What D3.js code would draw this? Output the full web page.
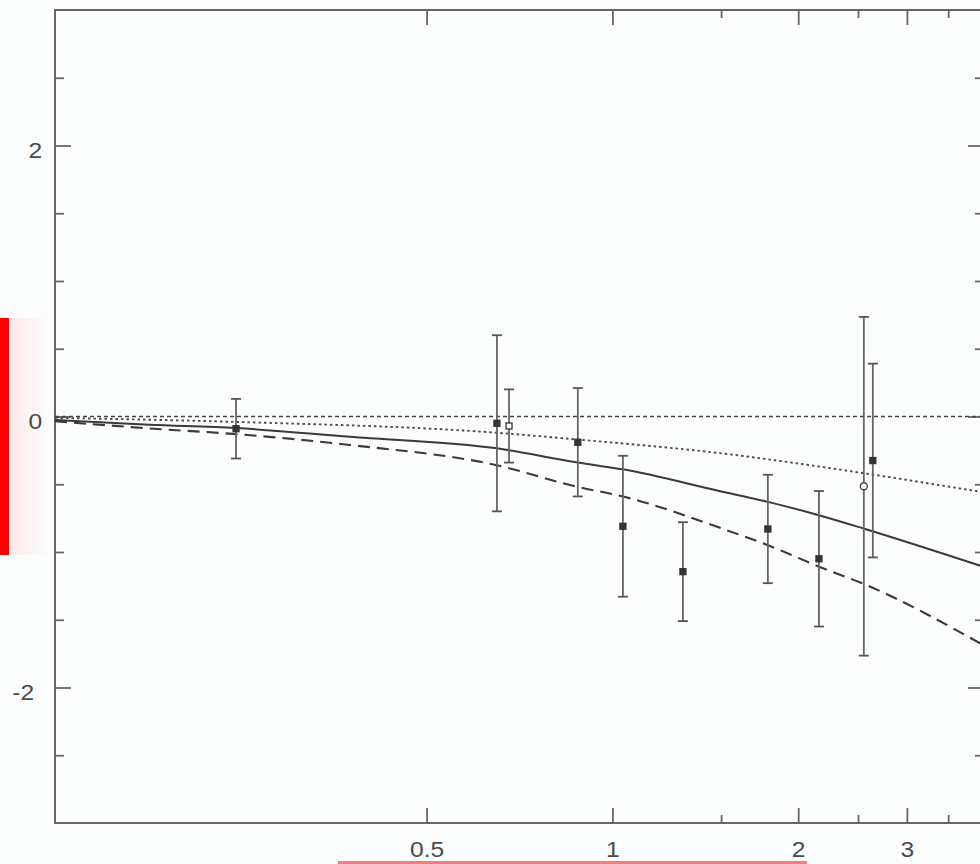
<!DOCTYPE html>
<html>
<head>
<meta charset="utf-8">
<script src="https://cdn.jsdelivr.net/npm/d3@7"></script>
<style>
  html, body { margin: 0; padding: 0; background: #fcfdfd; }
  svg { display: block; }
</style>
</head>
<body>
<script>
// measured points with symmetric error bars
var pointX   = [0.2456, 0.650, 0.680, 0.879, 1.040, 1.301, 1.786, 2.161, 2.555, 2.642];
var pointY   = [-0.09, -0.05, -0.07, -0.19, -0.81, -1.145, -0.83, -1.05, -0.515, -0.325];
var pointErr = [0.22, 0.65, 0.27, 0.40, 0.52, 0.365, 0.40, 0.50, 1.25, 0.715];
var pointSym = ['fill', 'fill', 'open', 'fill', 'fill', 'fill', 'fill', 'fill', 'circle', 'fill'];

// model curves
var solidX  = [0.125, 0.1777, 0.2456, 0.3755, 0.650, 0.879, 1.040, 1.490, 1.786, 2.167, 2.567, 4.0];
var solidY  = [-0.025, -0.06, -0.085, -0.15, -0.235, -0.34, -0.39, -0.55, -0.63, -0.73, -0.83, -1.11];
var dashedX = [0.125, 0.1777, 0.2456, 0.3755, 0.650, 0.879, 1.040, 1.490, 1.786, 2.167, 2.567, 4.0];
var dashedY = [-0.035, -0.088, -0.13, -0.21, -0.36, -0.52, -0.59, -0.82, -0.95, -1.11, -1.24, -1.69];
var dottedX = [0.125, 0.2456, 0.650, 0.879, 1.490, 2.567, 4.0];
var dottedY = [-0.01, -0.04, -0.12, -0.17, -0.27, -0.42, -0.56];
var zeroX   = [0.125, 4.0];
var zeroY   = [0, 0];

// axis ticks
var xMajor = [0.5, 1, 2, 3];
var xMinor = [1.5, 2.5, 3.5];
var yMajor = [-2, 0, 2];
var yMinor = [-2.5, -1.5, -1, -0.5, 0.5, 1, 1.5, 2.5];

var width = 980;
var height = 864;
var pLeft = 55, pTop = 10, pRight = 984, pBottom = 823;

var x = d3.scaleLog().domain([0.125, 4]).range([pLeft, pRight]);
var y = d3.scaleLinear().domain([-3, 3]).range([pBottom, pTop]);

var svg = d3.select('body').append('svg')
    .attr('width', width)
    .attr('height', height)
    .style('background', '#fcfdfd');

// red marker at the left edge, with its soft glow
var defs = svg.append('defs');
var grad = defs.append('linearGradient').attr('id', 'glow');
grad.append('stop').attr('offset', '0%').attr('stop-color', '#ff0000').attr('stop-opacity', 0.08);
grad.append('stop').attr('offset', '100%').attr('stop-color', '#ff0000').attr('stop-opacity', 0);
svg.append('rect').attr('x', 9).attr('y', 318).attr('width', 40).attr('height', 237).attr('fill', 'url(#glow)');
svg.append('rect').attr('x', 0).attr('y', 318).attr('width', 9).attr('height', 237).attr('fill', '#ff0000');

// red underline at the bottom
svg.append('rect').attr('x', 338).attr('y', 861).attr('width', 469).attr('height', 3).attr('fill', '#ef7f7f');

var fmt = function(d) { return String(d); };
var textScale = 'scale(1.12,1)';

function styleAxis(g) {
    g.select('.domain').remove();
    g.selectAll('.tick line').attr('stroke', '#666').attr('stroke-width', 1.8);
    g.selectAll('.tick text')
        .attr('fill', '#4a4a4a')
        .style('font-family', '"Liberation Sans", Arial, sans-serif')
        .style('font-size', '22px');
}

// bottom axis
svg.append('g').attr('transform', 'translate(0,' + pBottom + ')')
    .call(d3.axisBottom(x).tickValues(xMinor).tickFormat('').tickSize(-8))
    .call(styleAxis);
svg.append('g').attr('transform', 'translate(0,' + pBottom + ')')
    .call(d3.axisBottom(x).tickValues(xMajor).tickFormat(fmt).tickSize(-15).tickPadding(18.5))
    .call(styleAxis)
    .selectAll('.tick text').attr('transform', textScale);

// top axis
svg.append('g').attr('transform', 'translate(0,' + pTop + ')')
    .call(d3.axisTop(x).tickValues(xMinor).tickFormat('').tickSize(-8))
    .call(styleAxis);
svg.append('g').attr('transform', 'translate(0,' + pTop + ')')
    .call(d3.axisTop(x).tickValues(xMajor).tickFormat('').tickSize(-15))
    .call(styleAxis);

// left axis
svg.append('g').attr('transform', 'translate(' + pLeft + ',0)')
    .call(d3.axisLeft(y).tickValues(yMinor).tickFormat('').tickSize(-9))
    .call(styleAxis);
svg.append('g').attr('transform', 'translate(' + pLeft + ',0)')
    .call(d3.axisLeft(y).tickValues(yMajor).tickFormat(fmt).tickSize(-16).tickPadding(11.5))
    .call(styleAxis)
    .selectAll('.tick text')
        .attr('dy', '0.55em')
        .attr('dx', function(d) { return d < 0 ? -7 : 0; })
        .attr('transform', textScale);

// right axis (sits just past the window edge)
svg.append('g').attr('transform', 'translate(' + pRight + ',0)')
    .call(d3.axisRight(y).tickValues(yMinor).tickFormat('').tickSize(-9))
    .call(styleAxis);
svg.append('g').attr('transform', 'translate(' + pRight + ',0)')
    .call(d3.axisRight(y).tickValues(yMajor).tickFormat('').tickSize(-16))
    .call(styleAxis);

// frame
svg.append('rect')
    .attr('x', pLeft).attr('y', pTop)
    .attr('width', pRight - pLeft).attr('height', pBottom - pTop)
    .attr('fill', 'none').attr('stroke', '#666').attr('stroke-width', 2);

var plot = svg.append('g');

function curve(xs, ys) {
    return d3.line()
        .x(function(d, i) { return x(xs[i]); })
        .y(function(d, i) { return y(ys[i]); })
        .curve(d3.curveMonotoneX)(xs);
}

plot.append('path').attr('d', curve(zeroX, zeroY))
    .attr('fill', 'none').attr('stroke', '#444').attr('stroke-width', 1.4)
    .attr('stroke-dasharray', '4,3');
plot.append('path').attr('d', curve(dottedX, dottedY))
    .attr('fill', 'none').attr('stroke', '#4a4a4a').attr('stroke-width', 1.9)
    .attr('stroke-dasharray', '2.5,3');
plot.append('path').attr('d', curve(solidX, solidY))
    .attr('fill', 'none').attr('stroke', '#3a3a3a').attr('stroke-width', 2);
plot.append('path').attr('d', curve(dashedX, dashedY))
    .attr('fill', 'none').attr('stroke', '#3a3a3a').attr('stroke-width', 2.1)
    .attr('stroke-dasharray', '12,7');

// error bars
var idx = d3.range(pointX.length);
var bars = plot.selectAll('g.bar').data(idx).enter().append('g').attr('class', 'bar');
bars.append('line')
    .attr('x1', function(i) { return x(pointX[i]); })
    .attr('x2', function(i) { return x(pointX[i]); })
    .attr('y1', function(i) { return y(pointY[i] + pointErr[i]); })
    .attr('y2', function(i) { return y(pointY[i] - pointErr[i]); })
    .attr('stroke', '#666').attr('stroke-width', 1.8);
[1, -1].forEach(function(s) {
    bars.append('line')
        .attr('x1', function(i) { return x(pointX[i]) - 5; })
        .attr('x2', function(i) { return x(pointX[i]) + 5; })
        .attr('y1', function(i) { return y(pointY[i] + s * pointErr[i]); })
        .attr('y2', function(i) { return y(pointY[i] + s * pointErr[i]); })
        .attr('stroke', '#555').attr('stroke-width', 1.8);
});

// markers
bars.filter(function(i) { return pointSym[i] !== 'circle'; })
    .append('rect')
    .attr('x', function(i) { return x(pointX[i]) - 3; })
    .attr('y', function(i) { return y(pointY[i]) - 3; })
    .attr('width', 6).attr('height', 6)
    .attr('fill', function(i) { return pointSym[i] === 'open' ? '#fcfdfd' : '#333'; })
    .attr('stroke', '#333').attr('stroke-width', 1.3);
bars.filter(function(i) { return pointSym[i] === 'circle'; })
    .append('circle')
    .attr('cx', function(i) { return x(pointX[i]); })
    .attr('cy', function(i) { return y(pointY[i]); })
    .attr('r', 3.5)
    .attr('fill', '#fcfdfd').attr('stroke', '#444').attr('stroke-width', 1.4);
</script>
</body>
</html>
